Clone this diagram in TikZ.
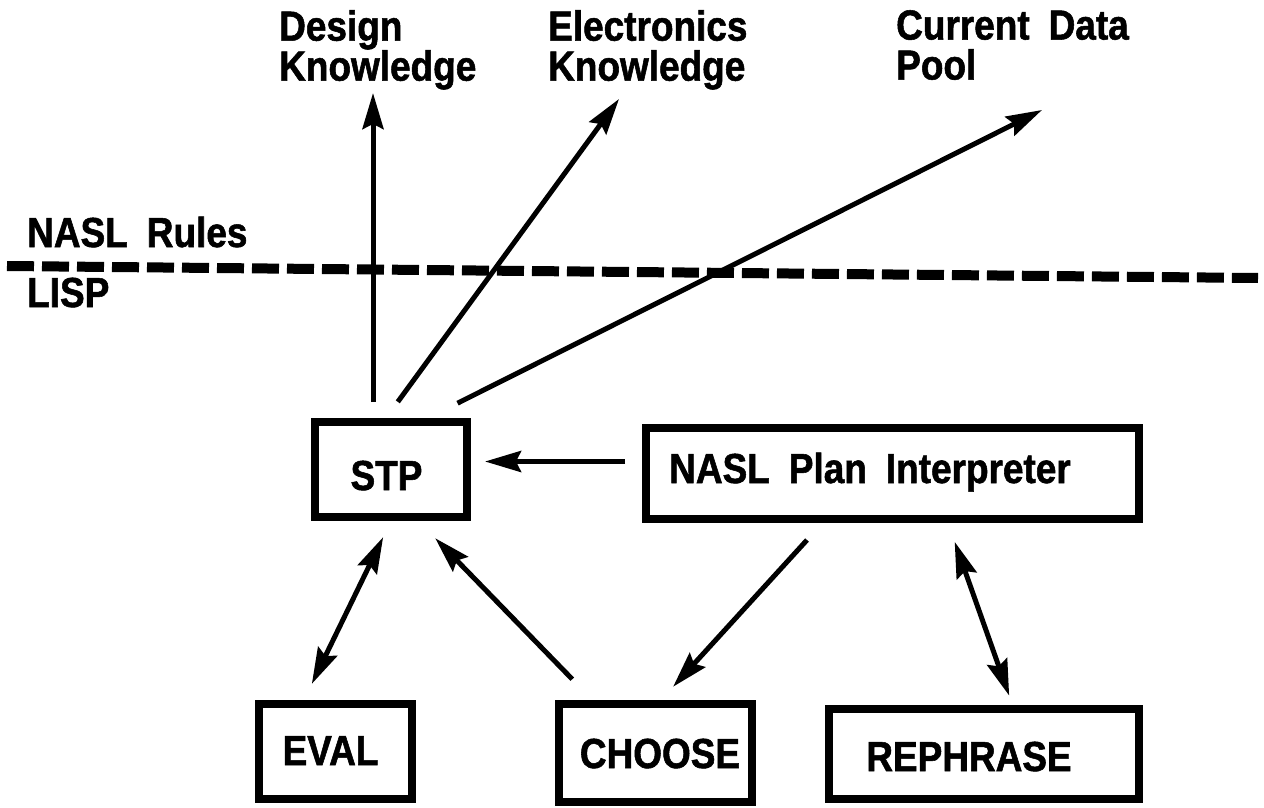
\documentclass[tikz,border=0pt]{standalone}
\usepackage{fontspec}
\setmainfont{Liberation Sans}[FakeStretch=0.88, BoldFeatures={FakeBold=1.3}]
\usetikzlibrary{arrows.meta}
\newcommand\wsp{\hspace*{19pt}}
\begin{document}
\begin{tikzpicture}[x=1pt,y=-1pt,
  box/.style={draw, line width=8pt, inner sep=0pt},
  lbl/.style={font=\fontsize{42}{40}\selectfont\bfseries, inner sep=0pt},
  arr/.style={line width=5pt, -{Stealth[length=36pt,width=21pt,inset=5pt]}},
  darr/.style={line width=5pt, {Stealth[length=36pt,width=21pt,inset=5pt]}-{Stealth[length=36pt,width=21pt,inset=5pt]}},
  dashline/.style={line width=10pt, dash pattern=on 27pt off 8pt}
]
\path[fill=white, use as bounding box] (0,0) rectangle (1264,808);

% top labels
\node[lbl, align=left, anchor=north west] (design) at (279,10) {Design\\Knowledge};
\node[lbl, align=left, anchor=north west] (elec) at (548,10) {Electronics\\Knowledge};
\node[lbl, align=left, anchor=north west] (pool) at (896,10) {Current\wsp Data\\Pool};
\coordinate (designA) at (373,93);
\coordinate (elecA) at (619,99);
\coordinate (poolA) at (1042,110);

% layer labels and separator
\node[lbl, anchor=base west] (rules) at (27,247) {NASL\wsp Rules};
\node[lbl, anchor=base west] (lisp) at (27,307) {LISP};
\draw[dashline] (7,266) -- (1258,278);

% boxes
\node[box, minimum width=152pt, minimum height=95pt] (stp) at (391,469.5) {};
\node[box, minimum width=493pt, minimum height=91pt] (nasl) at (892.5,473.5) {};
\node[box, minimum width=153pt, minimum height=95pt] (eval) at (335.5,751.5) {};
\node[box, minimum width=193pt, minimum height=98pt] (choose) at (655.5,753) {};
\node[box, minimum width=310pt, minimum height=90pt] (rephrase) at (984,754) {};

% box texts
\node[lbl, anchor=base] (stpT) at (386.5,490) {STP};
\node[lbl, anchor=base] (naslT) at (870,483) {NASL\wsp Plan\wsp Interpreter};
\node[lbl, anchor=base] (evalT) at (330.5,765) {EVAL};
\node[lbl, anchor=base] (chooseT) at (660,768) {CHOOSE};
\node[lbl, anchor=base] (rephraseT) at (969,771) {REPHRASE};

% connectors from STP upward
\draw[arr, shorten <=16pt] ([xshift=-18pt]stp.north) -- (designA);
\draw[arr, shorten <=20pt] ([xshift=-5pt]stp.north) -- (elecA);
\draw[arr, shorten <=33pt] ([xshift=37pt]stp.north) -- (poolA);

% NASL -> STP
\draw[arr, shorten <=17pt, shorten >=14pt] ([yshift=12pt]nasl.west) -- ([yshift=12pt]nasl.west -| stp.east);

% EVAL <-> STP
\draw[darr, shorten <=18pt, shorten >=18pt] (stp.south) -- ([xshift=-31.5pt]eval.north);
% CHOOSE -> STP
\draw[arr, shorten <=29pt, shorten >=24pt] ([xshift=-63pt]choose.north) -- ([xshift=27.5pt]stp.south);
% NASL -> CHOOSE
\draw[arr, shorten <=23pt, shorten >=18pt] ([xshift=-70pt]nasl.south) -- ([xshift=5.5pt]choose.north);
% NASL <-> REPHRASE
\draw[darr, shorten <=20pt, shorten >=10pt] ([xshift=55.5pt]nasl.south) -- ([xshift=28.5pt]rephrase.north);
\end{tikzpicture}
\end{document}
